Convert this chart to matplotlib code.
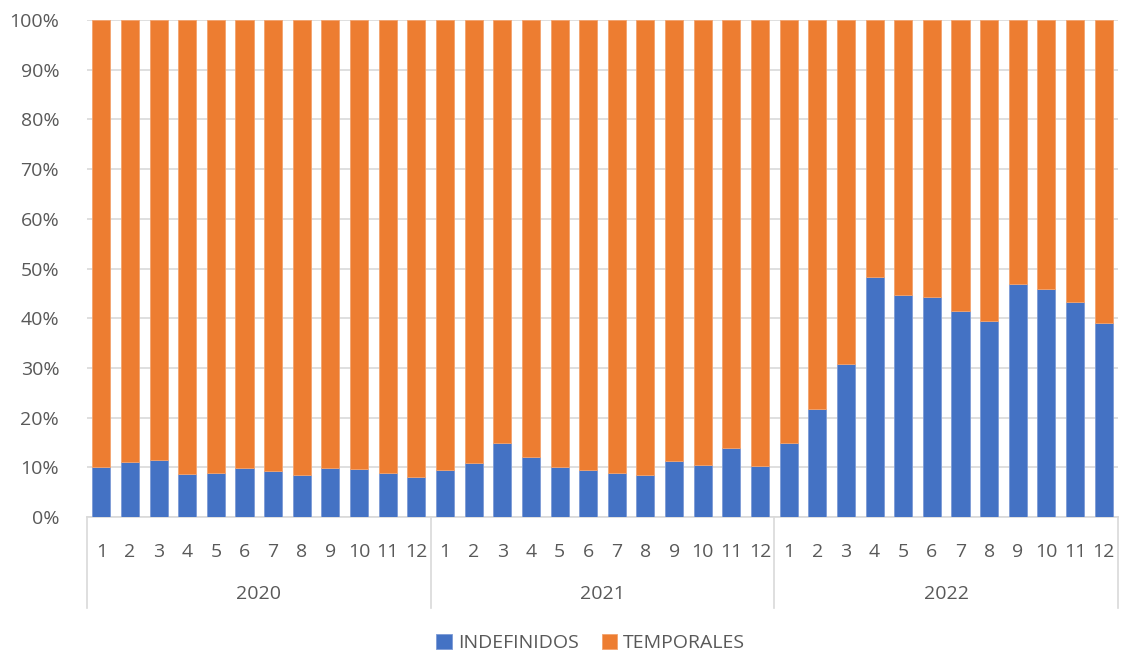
import numpy as np
import matplotlib; matplotlib.use("Agg")
import matplotlib.pyplot as plt
import matplotlib.transforms as mtransforms

# ── Data (share of INDEFINIDOS, %) ─────────────────────────────────────────────
years  = ["2020", "2021", "2022"]
months = [str(m) for m in range(1, 13)]

indef_2020 = [10.0, 11.0, 11.4, 8.6, 8.9, 9.8, 9.2, 8.5, 9.9, 9.7, 8.8, 8.1]
indef_2021 = [9.4, 10.8, 14.8, 12.0, 10.0, 9.5, 8.8, 8.4, 11.2, 10.5, 13.9, 10.2]
indef_2022 = [14.9, 21.8, 30.7, 48.2, 44.6, 44.3, 41.4, 39.5, 46.8, 45.9, 43.2, 39.1]

BLUE   = "#4472C4"
ORANGE = "#ED7D31"
GRID   = "#D9D9D9"
TXT    = "#595959"
FS     = 14

plt.rcParams["font.family"] = ["Open Sans", "DejaVu Sans"]

indef = np.array(indef_2020 + indef_2021 + indef_2022) / 100
temp  = 1 - indef
x = np.arange(len(indef))

fig = plt.figure(figsize=(11.47, 6.57), dpi=100)
ax = fig.add_axes([87 / 1147, 1 - 517 / 657, (1118 - 87) / 1147, (517 - 20) / 657])

ax.bar(x, indef, width=0.63, color=BLUE, edgecolor="#7C9BD6", linewidth=0.6,
       label="INDEFINIDOS", zorder=3)
ax.bar(x, temp, bottom=indef, width=0.63, color=ORANGE, edgecolor="#F3A36E",
       linewidth=0.6, label="TEMPORALES", zorder=3)

ax.set_xlim(-0.5, len(x) - 0.5)
ax.set_ylim(0, 1)
ax.set_yticks(np.arange(0, 1.01, 0.1))
ax.set_yticklabels([f"{int(round(v * 100))}%" for v in np.arange(0, 1.01, 0.1)],
                   fontsize=FS, color=TXT)
ax.yaxis.grid(True, color=GRID, linewidth=1.2, zorder=0)
ax.tick_params(axis="y", length=0, pad=20)
for s in ["top", "right", "left"]:
    ax.spines[s].set_visible(False)
ax.spines["bottom"].set_color(GRID)
ax.spines["bottom"].set_linewidth(1.2)

# Hierarchical category axis: month / year
ax.set_xticks(x)
ax.set_xticklabels(months * len(years), fontsize=FS, color=TXT)
ax.tick_params(axis="x", length=0, pad=19)

trans = mtransforms.blended_transform_factory(ax.transData, ax.transAxes)
for i, yr in enumerate(years):
    ax.text(i * 12 + 5.5, -0.155, yr, transform=trans, ha="center", va="center",
            fontsize=FS, color=TXT)
for b in [-0.5, 11.5, 23.5, 35.5]:
    ax.plot([b, b], [0, -0.183], transform=trans, color=GRID, linewidth=1.2,
            clip_on=False)

fig.legend(loc="center", bbox_to_anchor=(0.515, 1 - 643 / 657), ncol=2,
           frameon=False, fontsize=FS, handlelength=0.8, handleheight=0.8,
           handletextpad=0.3, columnspacing=1.2, labelcolor=TXT)

fig.savefig("out.png", dpi=100)
